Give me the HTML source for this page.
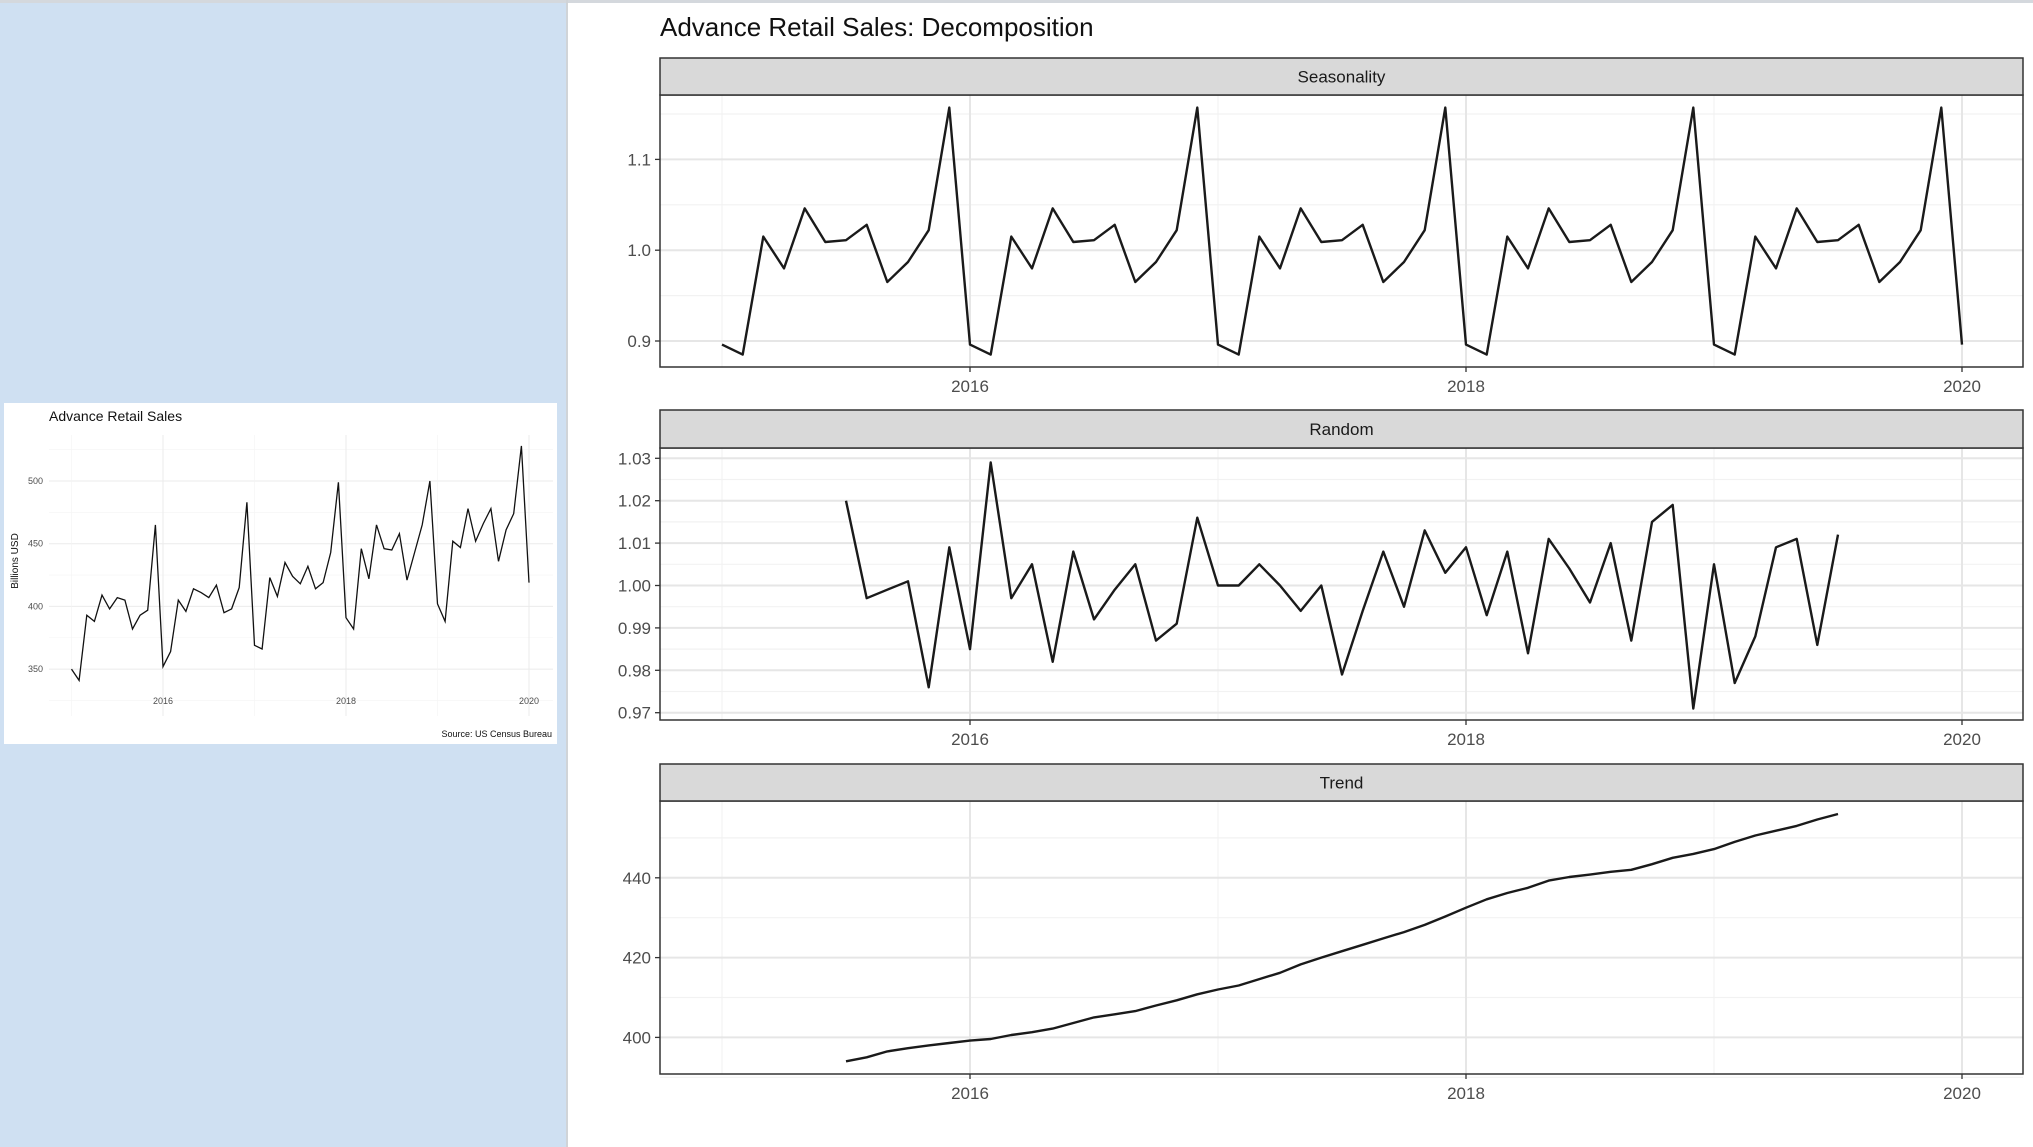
<!DOCTYPE html>
<html><head><meta charset="utf-8"><style>
html,body{margin:0;padding:0;background:#fff}
svg{display:block;font-family:"Liberation Sans",sans-serif}
</style></head><body>
<svg id="root" width="2033" height="1147" viewBox="0 0 2033 1147" xmlns="http://www.w3.org/2000/svg">
<rect x="0" y="0" width="2033" height="1147" fill="#ffffff"/>
<rect x="0" y="0" width="567" height="1147" fill="#cfe0f2"/>
<rect x="0" y="0" width="2033" height="3" fill="#d4d8dd"/>
<rect x="566" y="0" width="2" height="1147" fill="#d0d4d8"/>
<g id="small"></g>
<g id="main"></g>
</svg>
<script>
const NS="http://www.w3.org/2000/svg";
const salesValues=[350,341,393,388,409,398,407,405,382,393,397,465,
352,364,405,396,414,411,407,417,395,398,415,483,
369,366,423,408,435,424,418,432,414,419,443,499,
391,382,446,422,465,446,445,458,421,443,465,500,
402,388,452,447,478,452,466,478,436,461,474,528,
419];
const seasonalMonths=[0.896,0.885,1.015,0.980,1.046,1.009,1.011,1.028,0.965,0.987,1.022,1.157];
const seasonalYears=[2015,2016,2017,2018,2019];
const randomValues=[1.020,0.997,0.999,1.001,0.976,1.009,0.985,1.029,0.997,1.005,
0.982,1.008,0.992,0.999,1.005,0.987,0.991,1.016,1.000,1.000,
1.005,1.000,0.994,1.000,0.979,0.994,1.008,0.995,1.013,1.003,
1.009,0.993,1.008,0.984,1.011,1.004,0.996,1.010,0.987,1.015,
1.019,0.971,1.005,0.977,0.988,1.009,1.011,0.986,1.012];
const trendValues=[394,395,396.5,397.3,398,398.6,399.2,399.6,400.6,401.3,402.2,403.6,405,405.8,406.6,408,409.3,410.8,412,413,414.6,416.2,418.3,420,421.6,423.2,424.8,426.4,428.2,430.3,432.5,434.6,436.2,437.5,439.3,440.2,440.8,441.5,442,443.4,445,446,447.2,449,450.6,451.8,453,454.6,456];
const xTicks=[2016,2018,2020];
const salesYTicks=[350,400,450,500];
const seasYTicks=[0.9,1.0,1.1];
const randYTicks=[0.97,0.98,0.99,1.00,1.01,1.02,1.03];
const trendYTicks=[400,420,440];

function el(tag,attrs,parent,text){const e=document.createElementNS(NS,tag);for(const k in attrs)e.setAttribute(k,attrs[k]);if(text!==undefined)e.textContent=text;parent.appendChild(e);return e;}
function path(pts){return pts.map((p,i)=>(i?"L":"M")+p[0].toFixed(1)+","+p[1].toFixed(1)).join(" ");}

/* ---------- small chart ---------- */
const sg=document.getElementById('small');
const sbg=el('rect',{x:4,y:403,width:553,height:341,fill:'#fff'},sg);


const sx=t=>163+(t-2016)*91.5;
const sy=v=>481+(500-v)*62.7/50;
const sL=49,sR=553,sT=435,sB=716;
for(let v=325;v<=525;v+=25){const y=sy(v);if(y<sT||y>sB)continue;const g=el('line',{x1:sL,x2:sR,y1:y,y2:y,stroke:v%50?'#f4f4f4':'#ebebeb','stroke-width':v%50?0.6:1},sg);}
for(let t=2015;t<=2020;t++){const x=sx(t);const g=el('line',{x1:x,x2:x,y1:sT,y2:sB,stroke:t%2?'#f4f4f4':'#ebebeb','stroke-width':t%2?0.6:1},sg);}
salesYTicks.forEach(v=>{const t=el('text',{x:43,y:sy(v)+3,'font-size':9,fill:'#4d4d4d','text-anchor':'end'},sg,String(v));});
xTicks.forEach(v=>{const t=el('text',{x:sx(v),y:704,'font-size':9,fill:'#4d4d4d','text-anchor':'middle'},sg,String(v));});
const sl=el('path',{d:path(salesValues.map((v,i)=>[sx(2015+i/12),sy(v)])),fill:'none',stroke:'#111','stroke-width':1.3},sg);

let t1=el('text',{x:49,y:421,'font-size':14,fill:'#111'},sg,'Advance Retail Sales');

let t2=el('text',{x:0,y:0,'font-size':10,fill:'#111','text-anchor':'middle',transform:'translate(18,561) rotate(-90)'},sg,'Billions USD');

let t3=el('text',{x:552,y:737,'font-size':9,fill:'#111','text-anchor':'end'},sg,'Source: US Census Bureau');


/* ---------- decomposition ---------- */
const mg=document.getElementById('main');
const PL=660,PR=2023;
const mx=t=>970+(t-2016)*248;
let mt=el('text',{x:660,y:36,'font-size':26,fill:'#111'},mg,'Advance Retail Sales: Decomposition');


function panel(name,stripTop,top,bottom,yf,majors,minors,fmt,pts){
  const g=el('g',{},mg);
  
  
  minors.forEach(v=>{const y=yf(v);const l=el('line',{x1:PL,x2:PR,y1:y,y2:y,stroke:'#f2f2f2','stroke-width':1.2},g);});
  [2015,2017,2019].forEach(t=>{const x=mx(t);const l=el('line',{x1:x,x2:x,y1:top,y2:bottom,stroke:'#f2f2f2','stroke-width':1.2},g);});
  majors.forEach(v=>{const y=yf(v);const l=el('line',{x1:PL,x2:PR,y1:y,y2:y,stroke:'#e6e6e6','stroke-width':2},g);
    const tk=el('line',{x1:PL-5,x2:PL,y1:y,y2:y,stroke:'#333','stroke-width':1.3},g);
    const tx=el('text',{x:PL-9,y:y+6,'font-size':17,fill:'#4d4d4d','text-anchor':'end'},g,fmt(v));});
  xTicks.forEach(t=>{const x=mx(t);const l=el('line',{x1:x,x2:x,y1:top,y2:bottom,stroke:'#e6e6e6','stroke-width':2},g);
    const tk=el('line',{x1:x,x2:x,y1:bottom,y2:bottom+5,stroke:'#333','stroke-width':1.3},g);
    const tx=el('text',{x:x,y:bottom+25,'font-size':17,fill:'#4d4d4d','text-anchor':'middle'},g,String(t));});
  const ln=el('path',{d:path(pts),fill:'none',stroke:'#1a1a1a','stroke-width':2.4,'stroke-linejoin':'round'},g);
  
  const bd=el('rect',{x:PL,y:top,width:PR-PL,height:bottom-top,fill:'none',stroke:'#333','stroke-width':1.5},g);
  
  const st=el('rect',{x:PL,y:stripTop,width:PR-PL,height:top-stripTop,fill:'#d9d9d9',stroke:'#333','stroke-width':1.5},g);
  
  const sx2=el('text',{x:(PL+PR)/2,y:(stripTop+top)/2+6,'font-size':17,fill:'#1a1a1a','text-anchor':'middle'},g,name);
  
}
const seasPts=[];
seasonalYears.forEach(yr=>seasonalMonths.forEach((v,m)=>seasPts.push([yr+m/12,v])));
seasPts.push([2020,seasonalMonths[0]]);
const ySeas=v=>250.2-(v-1.0)*908;
panel('Seasonality',58,95,367,ySeas,seasYTicks,[0.95,1.05,1.15],v=>v.toFixed(1),seasPts.map(p=>[mx(p[0]),ySeas(p[1])]));
const yRand=v=>458.3+(1.03-v)*4240;
const randMin=[];for(let k=0;k<6;k++)randMin.push(0.975+k*0.01);
panel('Random',410,448,720,yRand,randYTicks,randMin,v=>v.toFixed(2),randomValues.map((v,i)=>[mx(2015.5+i/12),yRand(v)]));
const yTrend=v=>877.8+(440-v)*3.99;
panel('Trend',764,801,1074,yTrend,trendYTicks,[390,410,430,450],v=>String(v),trendValues.map((v,i)=>[mx(2015.5+i/12),yTrend(v)]));
</script>
</body></html>
